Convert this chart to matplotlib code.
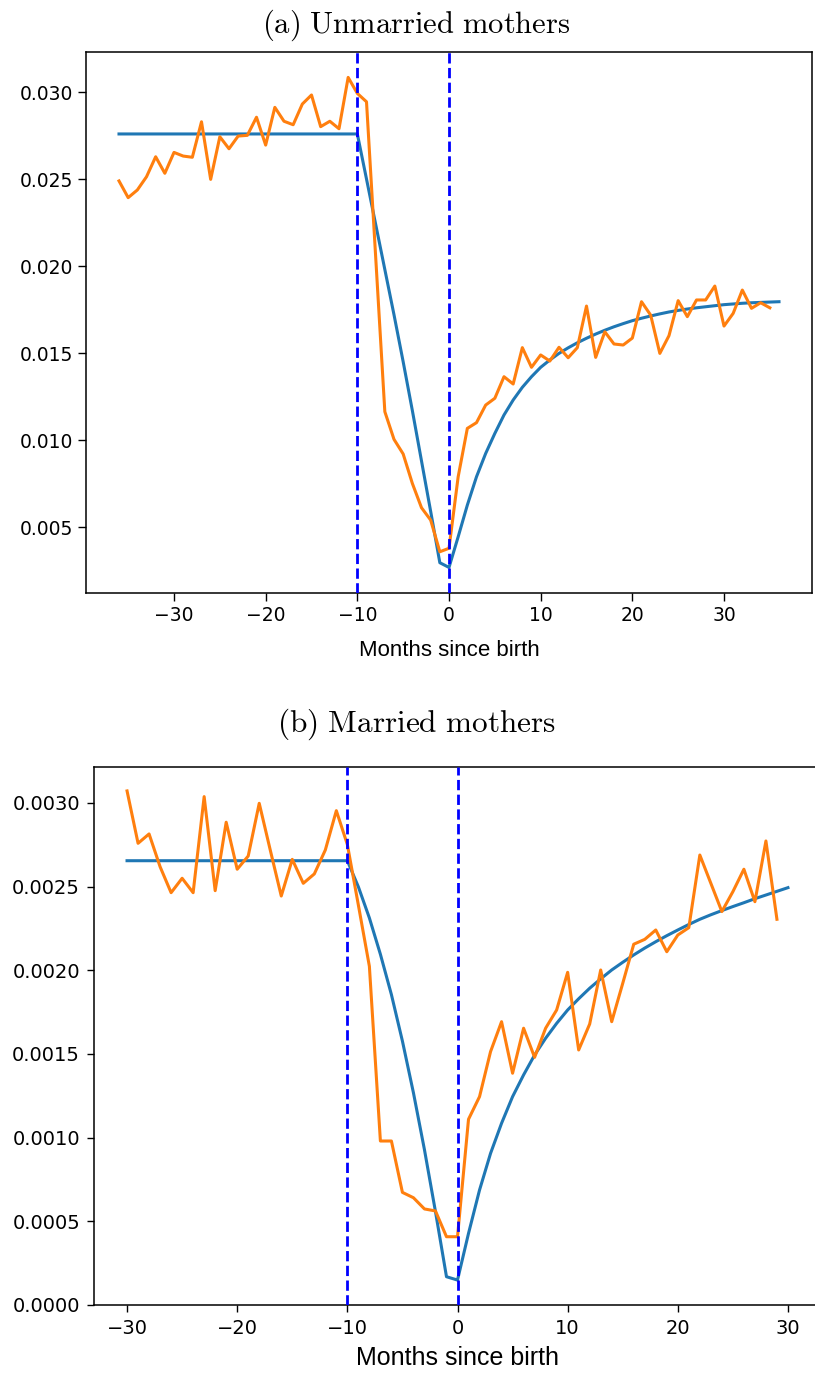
import matplotlib
matplotlib.use("Agg")
import matplotlib.pyplot as plt
import numpy as np

plt.rcParams['mathtext.fontset'] = 'cm'
plt.rcParams['font.family'] = ['DejaVu Sans']

# ---------------- Data: (a) Unmarried mothers ----------------
unmarried_obs_months = list(range(-36, 36))
unmarried_obs = [
    0.02489, 0.02393, 0.02437, 0.02513, 0.02628, 0.02533, 0.02653, 0.02632, 0.02625, 0.02829,
    0.02498, 0.02743, 0.02674, 0.02747, 0.02751, 0.02855, 0.02695, 0.02912, 0.02832, 0.02812,
    0.02931, 0.02983, 0.02801, 0.02832, 0.02789, 0.03084, 0.02992, 0.02944,
    0.02053, 0.01163, 0.01004, 0.00920, 0.00751, 0.00611, 0.00540, 0.00358,
    0.00378, 0.00789, 0.01067, 0.01100, 0.01201, 0.01240, 0.01364, 0.01322, 0.01531, 0.01418,
    0.01489, 0.01454, 0.01533, 0.01473, 0.01531, 0.01770, 0.01475, 0.01622, 0.01552, 0.01546,
    0.01586, 0.01795, 0.01718, 0.01498, 0.01600, 0.01801, 0.01709, 0.01805, 0.01805, 0.01885,
    0.01655, 0.01728, 0.01862, 0.01757, 0.01789, 0.01760,
]
unmarried_fit_months = list(range(-36, 37))
unmarried_fit = [
    0.02759, 0.02759, 0.02759, 0.02759, 0.02759, 0.02759, 0.02759, 0.02759, 0.02759, 0.02759,
    0.02759, 0.02759, 0.02759, 0.02759, 0.02759, 0.02759, 0.02759, 0.02759, 0.02759, 0.02759,
    0.02759, 0.02759, 0.02759, 0.02759, 0.02759, 0.02759, 0.02759,
    0.02500, 0.02240, 0.01980, 0.01720, 0.01450, 0.01170, 0.00880, 0.00590, 0.00295,
    0.00268, 0.00444, 0.00626, 0.00789, 0.00923, 0.01038, 0.01144, 0.01230, 0.01303, 0.01364,
    0.01418, 0.01460, 0.01498, 0.01530, 0.01559, 0.01585, 0.01609, 0.01631, 0.01651, 0.01669,
    0.01686, 0.01700, 0.01713, 0.01725, 0.01736, 0.01745, 0.01753, 0.01760, 0.01766, 0.01772,
    0.01778, 0.01782, 0.01786, 0.01789, 0.01791, 0.01793, 0.01795,
]

# ---------------- Data: (b) Married mothers ----------------
married_obs_months = list(range(-30, 30))
married_obs = [
    0.003072, 0.002759, 0.002815, 0.002619, 0.002464, 0.002550, 0.002464, 0.003038, 0.002476, 0.002885,
    0.002604, 0.002683, 0.002998, 0.002719, 0.002444, 0.002663, 0.002520, 0.002576, 0.002719, 0.002954,
    0.002752, 0.002390, 0.002024, 0.000980, 0.000980, 0.000673, 0.000641, 0.000574, 0.000562, 0.000408,
    0.000408, 0.001110, 0.001245, 0.001514, 0.001693, 0.001385, 0.001654, 0.001480, 0.001654, 0.001763,
    0.001988, 0.001524, 0.001679, 0.002002, 0.001693, 0.001922, 0.002156, 0.002185, 0.002241, 0.002111,
    0.002211, 0.002255, 0.002689, 0.002520, 0.002351, 0.002470, 0.002604, 0.002410, 0.002773, 0.002305,
]
married_fit_months = list(range(-30, 31))
married_fit = [
    0.002655, 0.002655, 0.002655, 0.002655, 0.002655, 0.002655, 0.002655, 0.002655, 0.002655, 0.002655,
    0.002655, 0.002655, 0.002655, 0.002655, 0.002655, 0.002655, 0.002655, 0.002655, 0.002655, 0.002655,
    0.002655,
    0.002499, 0.002313, 0.002096, 0.001855, 0.001577, 0.001268, 0.000928, 0.000558, 0.000169,
    0.000149, 0.000428, 0.000687, 0.000906, 0.001086, 0.001245, 0.001375, 0.001494, 0.001594, 0.001683,
    0.001763, 0.001830, 0.001893, 0.001949, 0.002002, 0.002048, 0.002092, 0.002133, 0.002171, 0.002207,
    0.002241, 0.002274, 0.002305, 0.002332, 0.002357, 0.002381, 0.002404, 0.002428, 0.002450, 0.002472,
    0.002494,
]

event_months = [-10, 0]
x_ticks = [-30, -20, -10, 0, 10, 20, 30]
yticks_a = [0.005, 0.010, 0.015, 0.020, 0.025, 0.030]
yticks_b = [0.0000, 0.0005, 0.0010, 0.0015, 0.0020, 0.0025, 0.0030]
titles = [r'$\mathrm{(a)\ Unmarried\ mothers}$', r'$\mathrm{(b)\ Married\ mothers}$']
xlabel = 'Months since birth'

BLUE = '#1f77b4'
ORANGE = '#ff7f0e'

W, H = 815, 1373
fig = plt.figure(figsize=(W / 100, H / 100), dpi=100)

ax1 = fig.add_axes([86 / W, (H - 593) / H, 726 / W, 541 / H])
ax2 = fig.add_axes([94 / W, (H - 1305) / H, 727 / W, 538 / H])

# Panel (a)
ax1.plot(unmarried_fit_months, unmarried_fit, color=BLUE, lw=2.2, zorder=2)
ax1.plot(unmarried_obs_months, unmarried_obs, color=ORANGE, lw=2.2, zorder=3)
for m in event_months:
    ax1.axvline(m, color='blue', ls='--', lw=2.0, zorder=4)
ax1.set_xlim(-39.6, 39.6)
ax1.set_ylim(0.00121, 0.0323)
ax1.set_xticks(x_ticks)
ax1.set_yticks(yticks_a)
ax1.set_yticklabels([f'{v:.3f}' for v in yticks_a])
ax1.tick_params(labelsize=13.5, length=5.5, width=1.0, pad=4)
ax1.set_xlabel(xlabel, fontsize=16, family=['Liberation Sans', 'DejaVu Sans'], labelpad=11)

# Panel (b)
ax2.plot(married_fit_months, married_fit, color=BLUE, lw=2.2, zorder=2)
ax2.plot(married_obs_months, married_obs, color=ORANGE, lw=2.2, zorder=3)
for m in event_months:
    ax2.axvline(m, color='blue', ls='--', lw=2.0, zorder=4)
ax2.set_xlim(-33, 33)
ax2.set_ylim(0.0, 0.003215)
ax2.set_xticks(x_ticks)
ax2.set_yticks(yticks_b)
ax2.set_yticklabels([f'{v:.4f}' for v in yticks_b])
ax2.tick_params(labelsize=14, length=5.0, width=1.0, pad=5)
ax2.set_xlabel(xlabel, fontsize=18, family=['Liberation Sans', 'DejaVu Sans'], labelpad=6)

for ax in (ax1, ax2):
    for s in ax.spines.values():
        s.set_linewidth(1.1)

fig.text(416 / W, 1 - 25 / H, titles[0], ha='center', va='center', fontsize=22)
fig.text(416 / W, 1 - 724 / H, titles[1], ha='center', va='center', fontsize=22.5)

fig.savefig('out.png', dpi=100)
